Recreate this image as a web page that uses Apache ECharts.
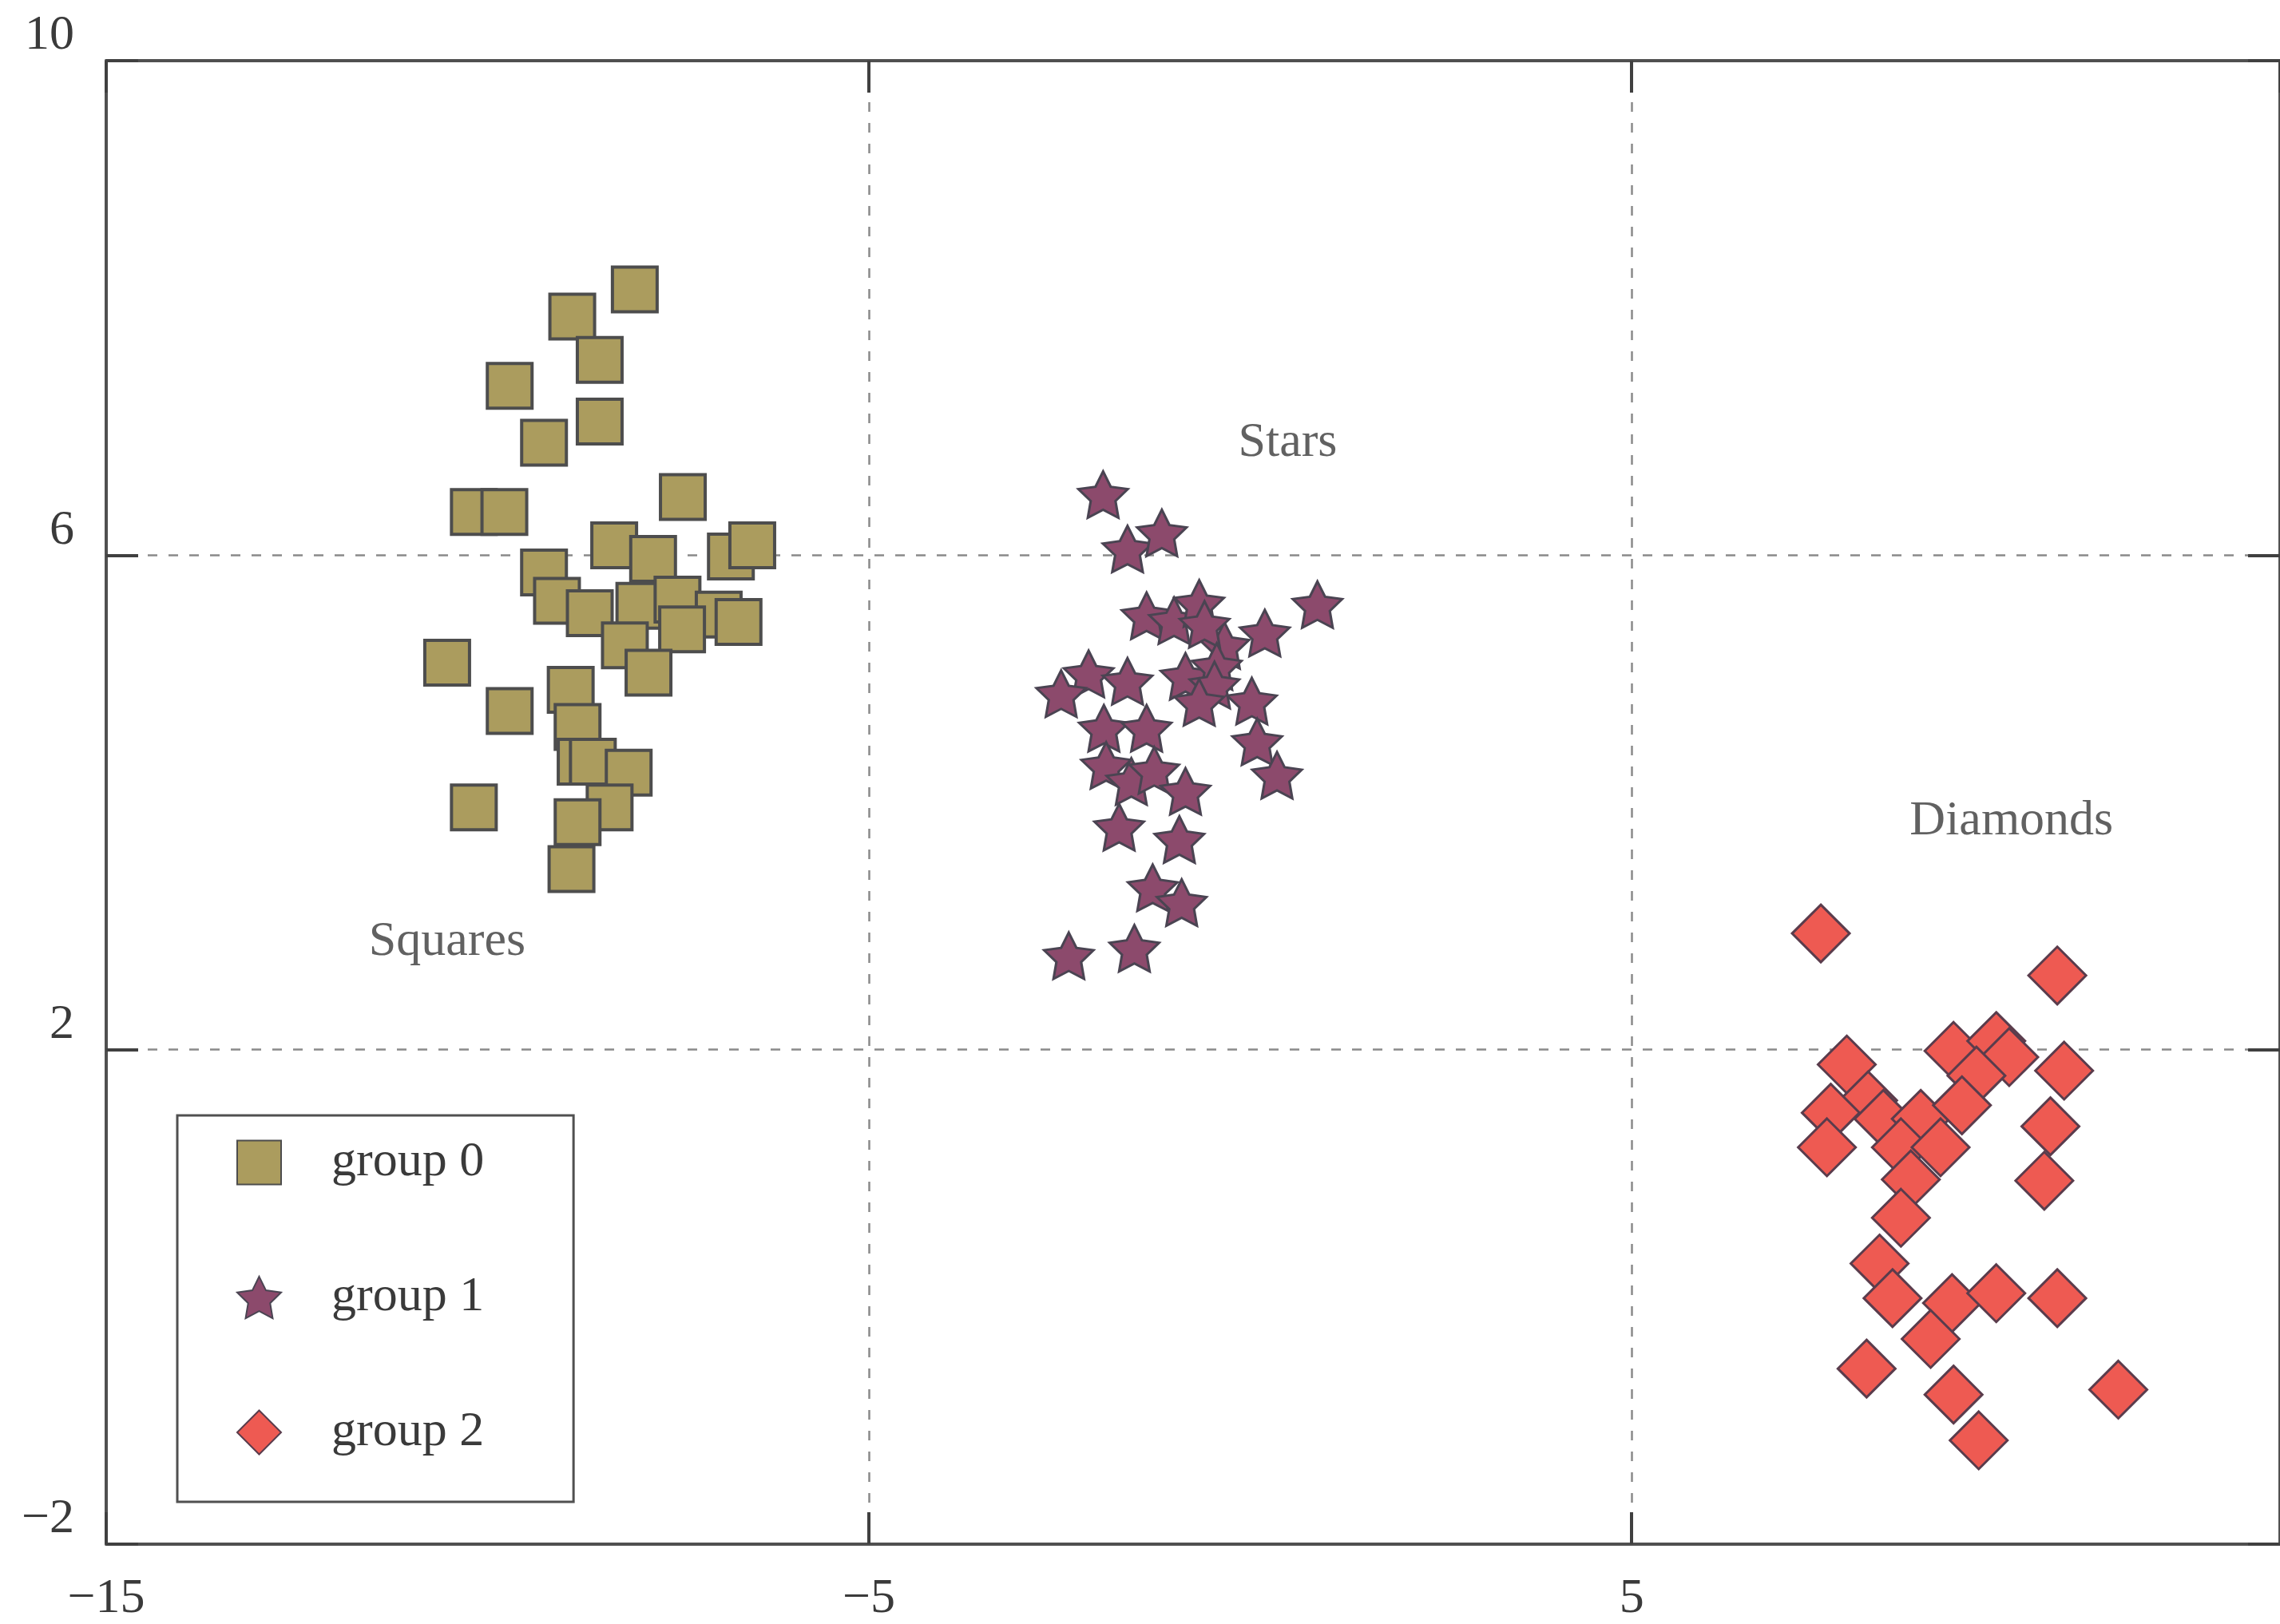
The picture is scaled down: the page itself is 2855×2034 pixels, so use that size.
<!DOCTYPE html>
<html>
<head>
<meta charset="utf-8">
<title>group scatter</title>
<script src="https://cdn.jsdelivr.net/npm/echarts@6/dist/echarts.min.js"></script>
<style>
  html, body { margin: 0; padding: 0; background: #fff; }
  #chart { width: 2855px; height: 2034px; }
</style>
</head>
<body>
<div id="chart"></div>
<script>
// values, [x, y]
const group0 = [
  [-8.07, 8.15], [-8.89, 7.93], [-8.53, 7.58], [-9.71, 7.37], [-8.53, 7.08],
  [-9.26, 6.91], [-7.44, 6.47], [-10.18, 6.35], [-9.78, 6.35], [-8.34, 6.08],
  [-7.83, 5.97], [-6.81, 5.99], [-6.53, 6.08], [-9.26, 5.86], [-9.09, 5.63],
  [-8.66, 5.53], [-8.01, 5.59], [-7.51, 5.64], [-6.97, 5.52], [-6.71, 5.46],
  [-7.45, 5.40], [-8.20, 5.27], [-7.89, 5.05], [-10.53, 5.13], [-8.91, 4.91],
  [-9.71, 4.74], [-8.82, 4.61], [-8.78, 4.33], [-8.62, 4.33], [-8.15, 4.24],
  [-8.40, 3.96], [-10.18, 3.96], [-8.82, 3.84], [-8.90, 3.46]
];
const group1 = [
  [-1.93, 6.49], [-1.61, 6.05], [-1.16, 6.18], [-1.36, 5.51], [-1.00, 5.47],
  [-0.67, 5.61], [0.88, 5.60], [0.19, 5.37], [-0.34, 5.27], [-0.60, 5.44],
  [-2.12, 5.04], [-2.48, 4.88], [-1.61, 4.98], [-0.85, 5.02], [-0.44, 5.10],
  [-0.47, 4.95], [-0.67, 4.81], [0.02, 4.82], [-1.92, 4.60], [-1.36, 4.60],
  [0.09, 4.49], [-1.89, 4.30], [-1.56, 4.17], [-1.26, 4.26], [-0.85, 4.09],
  [0.35, 4.22], [-1.72, 3.80], [-0.93, 3.70], [-1.28, 3.31], [-0.90, 3.19],
  [-2.38, 2.76], [-1.52, 2.82]
];
const group2 = [
  [7.48, 2.94], [10.58, 2.60], [7.82, 1.88], [9.22, 1.99], [9.78, 2.07],
  [9.95, 1.94], [10.67, 1.83], [9.52, 1.79], [8.10, 1.59], [7.61, 1.49],
  [8.30, 1.44], [8.79, 1.44], [9.33, 1.55], [10.49, 1.38], [7.56, 1.21],
  [8.53, 1.21], [9.05, 1.21], [8.66, 0.95], [10.41, 0.94], [8.53, 0.64],
  [8.25, 0.27], [8.42, -0.01], [9.20, -0.05], [9.78, 0.03], [10.58, -0.01],
  [8.92, -0.34], [8.08, -0.58], [9.22, -0.79], [11.38, -0.75], [9.55, -1.16]
];
const groupNames = ['group 0', 'group 1', 'group 2'];
const notes = [
  ['Squares', -10.53, 2.87],
  ['Stars', 0.49, 6.91],
  ['Diamonds', 9.98, 3.85]
];
const xTicks = [-15, -5, 5];
const yTicks = [-2, 2, 6, 10];

const serif = '"Liberation Serif", "DejaVu Serif", serif';
const ink = '#3a3a3a';

// fat five point star for group 1
function starPath() {
  const pts = [];
  for (let i = 0; i < 10; i++) {
    const r = i % 2 ? 0.5 : 1;
    const a = -Math.PI / 2 + i * Math.PI / 5;
    pts.push((50 + 50 * r * Math.cos(a)).toFixed(1) + ' ' + (50 + 50 * r * Math.sin(a)).toFixed(1));
  }
  return 'path://M' + pts.join(' L') + ' Z';
}
const star = starPath();

const minus = v => String(v).replace('-', '\u2212');

const chart = echarts.init(document.getElementById('chart'));

const axisBase = {
  type: 'value',
  axisLine: { show: true, onZero: false, lineStyle: { color: '#505050', width: 4 } },
  axisTick: { show: true, inside: true, length: 40, lineStyle: { color: '#404040', width: 4 } }
};

chart.setOption({
  backgroundColor: '#ffffff',
  animation: false,
  grid: { left: 133, top: 76, width: 2738, height: 1858, containLabel: false },
  legend: {
    orient: 'vertical',
    left: 222,
    top: 1397,
    data: [
      { name: groupNames[0], icon: 'rect' },
      { name: groupNames[1], icon: star },
      { name: groupNames[2], icon: 'diamond' }
    ],
    itemWidth: 55,
    itemHeight: 55,
    itemGap: 107,
    padding: [28, 112, 56, 74],
    borderColor: '#505050',
    borderWidth: 3,
    backgroundColor: '#fff',
    textStyle: { fontFamily: serif, fontSize: 62, color: ink, padding: [0, 0, 0, 58] }
  },
  xAxis: [
    Object.assign({}, axisBase, {
      position: 'bottom', min: -15, max: 13.5, interval: 10,
      axisLabel: {
        fontFamily: serif, fontSize: 62, color: ink, margin: 38,
        showMaxLabel: false,
        formatter: v => xTicks.includes(v) ? minus(v) : ''
      },
      splitLine: { show: true, lineStyle: { color: '#8a8a8a', width: 2.5, type: [12, 14] } }
    }),
    Object.assign({}, axisBase, {
      position: 'top', min: -15, max: 13.5, interval: 10,
      axisLabel: { show: false }, splitLine: { show: false }
    })
  ],
  yAxis: [
    Object.assign({}, axisBase, {
      position: 'left', min: -2, max: 10, interval: 4,
      axisLabel: {
        fontFamily: serif, fontSize: 62, color: ink, margin: 40,
        verticalAlign: 'bottom',
        formatter: v => yTicks.includes(v) ? minus(v) : ''
      },
      splitLine: { show: true, lineStyle: { color: '#8a8a8a', width: 2.5, type: [12, 14] } }
    }),
    Object.assign({}, axisBase, {
      position: 'right', min: -2, max: 10, interval: 4,
      axisLabel: { show: false }, splitLine: { show: false }
    })
  ],
  series: [
    {
      name: groupNames[0], type: 'scatter', data: group0,
      symbol: 'rect', symbolSize: 56,
      itemStyle: { color: '#ab9c5e', borderColor: '#4d4d4d', borderWidth: 4, opacity: 1 }
    },
    {
      name: groupNames[1], type: 'scatter', data: group1,
      symbol: star, symbolSize: [62, 58],
      itemStyle: { color: '#8c4a6c', borderColor: '#4a4452', borderWidth: 3, opacity: 1 }
    },
    {
      name: groupNames[2], type: 'scatter', data: group2,
      symbol: 'diamond', symbolSize: 72,
      itemStyle: { color: '#ee5a52', borderColor: '#5a3c4c', borderWidth: 3, opacity: 1 }
    },
    {
      name: 'notes', type: 'scatter', symbolSize: 1,
      data: notes.map(n => ({ name: n[0], value: [n[1], n[2]] })),
      itemStyle: { color: 'rgba(0,0,0,0)' },
      label: {
        show: true, position: 'inside', formatter: p => p.name,
        fontFamily: serif, fontSize: 62, color: ink
      },
      silent: true
    }
  ]
});
</script>
</body>
</html>
